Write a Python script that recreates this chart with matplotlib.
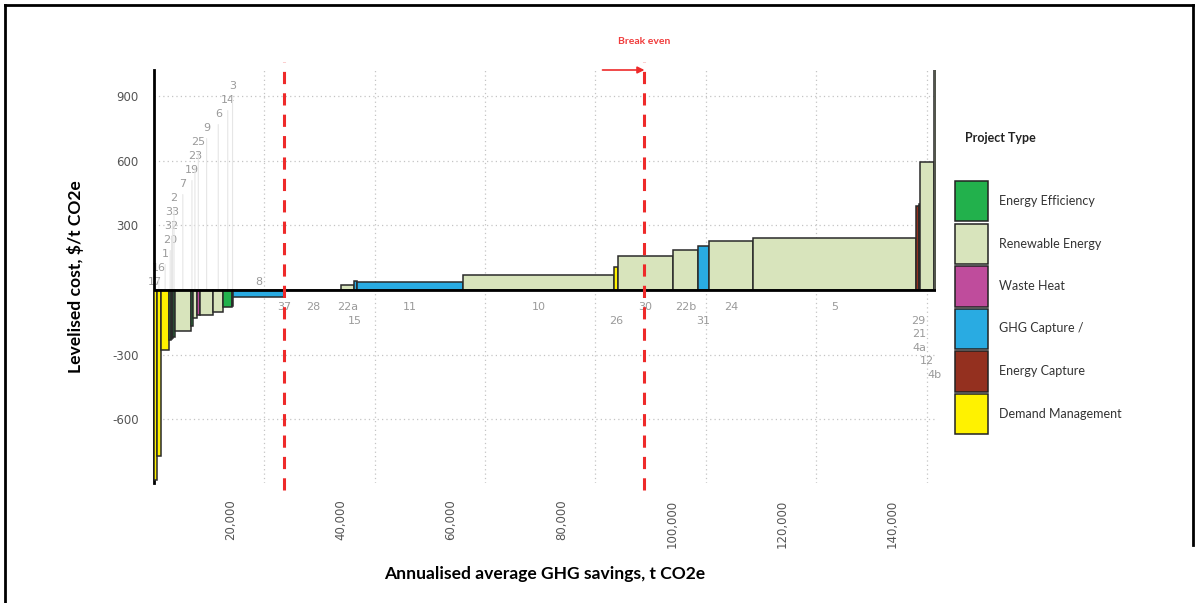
import numpy as np
import matplotlib
matplotlib.use("Agg")
import matplotlib.pyplot as plt
from matplotlib.patches import Rectangle
from matplotlib.transforms import ScaledTranslation
from matplotlib.lines import Line2D

# project data, in order along the curve
projects = ['17', '16', '1', '20', '32', '33', '2', '7', '19', '23', '25', '9', '6', '14', '3',
            '8', '37', '28', '22a', '15', '11', '10', '26', '30', '22b', '31', '24', '5',
            '29', '21', '4a', '12', '4b']
# annualised savings (t CO2e) = bar width
savings = [490, 780, 1500, 330, 180, 180, 340, 2840, 470, 620, 600, 2410, 1810, 1620, 120,
           9240, 170, 10150, 2350, 540, 19240, 27460, 600, 10080, 4400, 2120, 7840, 29680,
           490, 60, 60, 2600, 250]
# levelised cost ($/t CO2e) = bar height
cost = [-880, -770, -280, -232, -226, -221, -216, -190, -166, -132, -118, -114, -100, -80, -76,
        -31, -6, 2, 22, 40, 38, 69, 105, 157, 187, 204, 225, 239,
        390, 395, 400, 595, 1300]
ptype = ['DM', 'DM', 'DM', 'EE', 'EE', 'EE', 'EE', 'RE', 'EE', 'RE', 'WH', 'RE', 'RE', 'EE', 'EE',
         'GHG', 'GHG', 'RE', 'RE', 'GHG', 'GHG', 'RE', 'DM', 'RE', 'RE', 'GHG', 'RE', 'RE',
         'EC', 'EC', 'EC', 'RE', 'RE']

type_keys = ['EE', 'RE', 'WH', 'GHG', 'EC', 'DM']
type_names = ['Energy Efficiency', 'Renewable Energy', 'Waste Heat', 'GHG Capture /',
              'Energy Capture', 'Demand Management']
type_colors = ['#22b14c', '#d8e4bc', '#bf4c9c', '#29abe2', '#94301f', '#fff200']

first_marker = 23530     # red dashed line
break_even = 88870       # break even line
x_ticks = [20000, 40000, 60000, 80000, 100000, 120000, 140000]
y_ticks = [-600, -300, 300, 600, 900]

# label rows (layout): >=0 above axis, <0 below
label_row = [0, 1, 2, 3, 4, 5, 6, 7, 8, 9, 10, 11, 12, 13, 14,
             0, -1, -1, -1, -2, -1, -1, -2, -1, -1, -2, -1, -1,
             -2, -3, -4, -5, -6]

W, H = 1197, 603
fig = plt.figure(figsize=(W / 100, H / 100), dpi=100)
ax = fig.add_axes([154 / W, (H - 483) / H, (936 - 154) / W, 413 / H])

col = dict(zip(type_keys, type_colors))
left = np.concatenate([[0], np.cumsum(savings)[:-1]])
centers = left + np.array(savings) / 2

ax.bar(left, cost, width=savings, align='edge',
       color=[col[t] for t in ptype], edgecolor='#2a2a2a', linewidth=1.1, zorder=3)

ax.set_xlim(0, 141700)
ax.set_ylim(-895, 1020)

# grid
ax.set_xticks(x_ticks)
ax.set_yticks(y_ticks)
ax.grid(True, color='#c4c4c4', linestyle=(0, (1, 2.5)), linewidth=0.9, zorder=0)
ax.set_axisbelow(True)
for s in ['top', 'right', 'bottom']:
    ax.spines[s].set_visible(False)
ax.spines['left'].set_linewidth(2)
ax.axhline(0, color='black', lw=2, zorder=4)

ax.set_xticklabels([f'{v:,}' for v in x_ticks], rotation=90, color='#555555',
                   fontsize=8.5, family='DejaVu Sans')
ax.set_yticklabels([str(v) for v in y_ticks], color='#555555', fontsize=8.5,
                   family='DejaVu Sans')
ax.tick_params(axis='x', length=0, pad=12)
ax.tick_params(axis='y', length=0, pad=11)
shift = ScaledTranslation(-34 / 100, 0, fig.dpi_scale_trans)
for lab in ax.get_xticklabels():
    lab.set_transform(lab.get_transform() + shift)

ax.set_xlabel('Annualised average GHG savings, t CO2e', fontsize=12.6, fontweight='bold',
              family='Lato', labelpad=13)
ax.set_ylabel('Levelised cost, $/t CO2e', fontsize=12.6, fontweight='bold',
              family='Lato', labelpad=20)

# project labels
for name, cx, r in zip(projects, centers, label_row):
    if r >= 0:
        dy = 8 + 14 * r
        arrow = dict(arrowstyle='-', color='#e6e6e6', lw=0.8, shrinkA=2, shrinkB=0) if r > 0 else None
        ax.annotate(name, xy=(cx, 0), xytext=(0, dy), textcoords='offset pixels',
                    ha='center', va='center', fontsize=8, color='#9a9a9a',
                    arrowprops=arrow, zorder=2)
    else:
        dy = -(17 + 13.6 * (-r - 1))
        ax.annotate(name, xy=(cx, 0), xytext=(0, dy), textcoords='offset pixels',
                    ha='center', va='center', fontsize=8, color='#9a9a9a', zorder=2)

# red dashed lines
for xv in [first_marker, break_even]:
    ax.axvline(xv, ymin=-0.017, ymax=1.019, color='#ee2a2a', lw=2.2,
               dashes=(4, 3), clip_on=False, zorder=5)
ax.annotate('', xy=(break_even, 1.0), xytext=(81270, 1.0),
            xycoords=('data', 'axes fraction'), textcoords=('data', 'axes fraction'),
            arrowprops=dict(arrowstyle='-|>', color='#ee2a2a', lw=1.2, mutation_scale=10,
                            shrinkA=0, shrinkB=0), annotation_clip=False)
ax.text(break_even, 1.0 + 28 / 413, 'Break even', transform=ax.get_xaxis_transform(),
        ha='center', va='center', fontsize=7.5, color='#f03c3c', fontweight='bold',
        family='Lato')

# legend drawn by hand
fig.text(965 / W, 1 - 138 / H, 'Project Type', fontsize=9, fontweight='bold',
         family='Lato', ha='left', va='center', color='#222222')
for i, (nm, c) in enumerate(zip(type_names, type_colors)):
    top = 181 + 42.5 * i
    fig.add_artist(Rectangle((955 / W, 1 - (top + 40.5) / H), 33 / W, 40.5 / H,
                             facecolor=c, edgecolor='#222222', lw=1.1,
                             transform=fig.transFigure))
    fig.text(999 / W, 1 - (top + 20) / H, nm, fontsize=9, family='Lato',
             ha='left', va='center', color='#333333')

# outer frame
for xs, ys in [([5, 5], [603, 5]), ([5, 1193], [5, 5]), ([1193, 1193], [5, 545])]:
    fig.add_artist(Line2D([x / W for x in xs], [1 - y / H for y in ys], color='black',
                          lw=2, transform=fig.transFigure))

fig.savefig('out.png', dpi=100)
